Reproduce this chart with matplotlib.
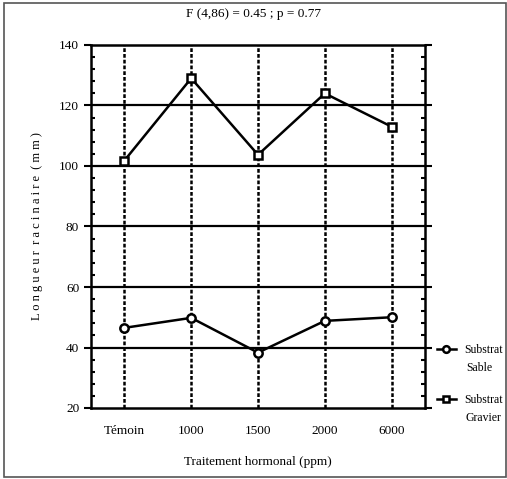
import matplotlib.pyplot as plt
from matplotlib.patches import Rectangle
from matplotlib.ticker import MultipleLocator

plt.rcParams['font.family'] = ['Liberation Serif', 'DejaVu Serif']

# data
traitements = ['Témoin', '1000', '1500', '2000', '6000']
sable = [46.5, 49.8, 38.3, 48.8, 50.0]
gravier = [101.8, 129.0, 103.7, 124.0, 113.0]
yticks = [20, 40, 60, 80, 100, 120, 140]

fig = plt.figure(figsize=(5.07, 4.79), dpi=100)
ax = fig.add_axes([91 / 507, 1 - 408 / 479, 334 / 507, 363 / 479])

x = list(range(len(traitements)))

# grid
for xi in x:
    ax.axvline(xi, color='black', lw=1.8, ls=(0, (1.5, 0.8)), zorder=1)
for yv in yticks[1:-1]:
    ax.axhline(yv, color='black', lw=1.6, zorder=1)

ax.plot(x, sable, color='black', lw=1.8, marker='o', ms=6,
        mfc='white', mec='black', mew=1.8, zorder=3, label='Substrat')
ax.plot(x, gravier, color='black', lw=1.8, marker='s', ms=6,
        mfc='white', mec='black', mew=1.8, zorder=3, label='Substrat')

ax.set_xlim(-0.5, 4.5)
ax.set_ylim(20, 140)
ax.set_xticks(x)
ax.set_xticklabels(traitements, fontsize=9.5)
ax.set_yticks(yticks)
ax.yaxis.set_minor_locator(MultipleLocator(4))
ax.tick_params(axis='x', length=0, pad=12)
ax.tick_params(axis='y', which='major', length=5, width=1.5, labelsize=9.5,
               direction='out', right=True)
ax.tick_params(axis='y', which='minor', length=3, width=1.5,
               direction='in', right=True)
for s in ax.spines.values():
    s.set_linewidth(1.8)

ax.set_xlabel('Traitement hormonal (ppm)', fontsize=9.5, labelpad=14)
ax.set_ylabel('L o n g u e u r  r a c i n a i r e  ( m m )', fontsize=9, labelpad=12)
fig.text(0.5, 1 - 14 / 479, 'F (4,86) = 0.45 ; p = 0.77', ha='center',
         va='center', fontsize=9.5)

fig.legend(loc='upper left', bbox_to_anchor=(437 / 507, 1 - 344 / 479),
           frameon=False, fontsize=8.5, handlelength=1.6, handletextpad=0.7,
           labelspacing=3.25, markerscale=0.8, borderpad=0, borderaxespad=0)
fig.text(466 / 507, 1 - 368 / 479, 'Sable', fontsize=8.5, va='center')
fig.text(466 / 507, 1 - 418 / 479, 'Gravier', fontsize=8.5, va='center')

fig.patches.append(Rectangle((4 / 507, 1 - 477 / 479), 502 / 507, 474 / 479,
                             transform=fig.transFigure, fill=False,
                             edgecolor='#555555', lw=1.2))

fig.savefig('out.png', dpi=100)
